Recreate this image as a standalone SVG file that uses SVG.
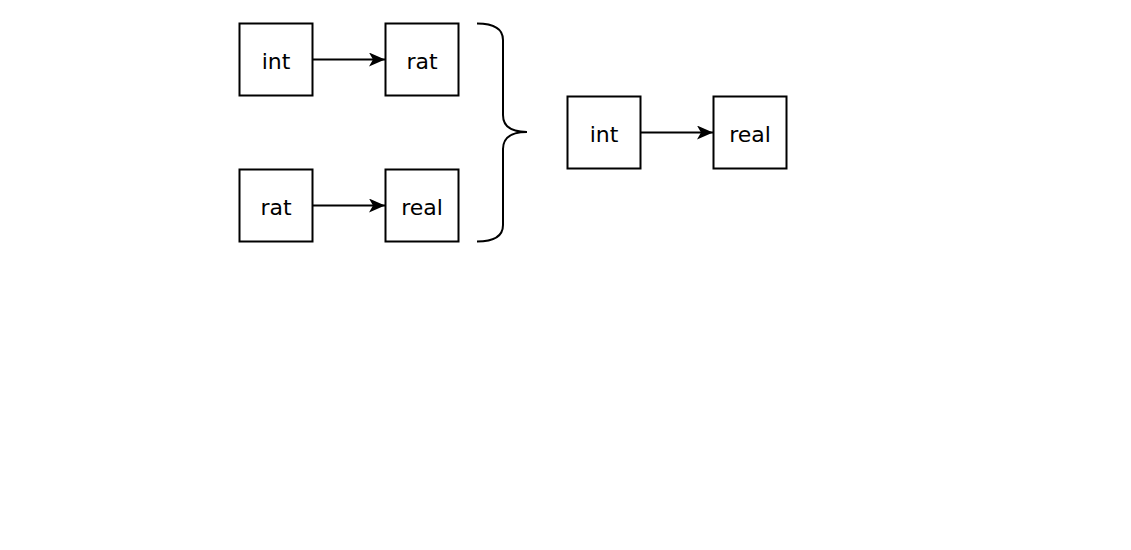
<svg xmlns="http://www.w3.org/2000/svg" width="1131" height="550" viewBox="0 0 1131 550">
<defs>
<style>
.box{fill:#fff;stroke:#000;stroke-width:2}
.lbl{font-family:"DejaVu Sans",sans-serif;font-size:22px;fill:#000;text-anchor:middle;dominant-baseline:central}
.edge{fill:none;stroke:#000;stroke-width:2}
</style>
<marker id="arr" markerWidth="18" markerHeight="16" refX="16" refY="7" orient="auto" markerUnits="userSpaceOnUse">
<path d="M0,0 L16,7 L0,14 L4,7 Z" fill="#000"/>
</marker>
</defs>
<rect width="1131" height="550" fill="#fff"/>
<g id="n1"><rect class="box" x="239.5" y="23.5" width="73" height="72"/><text class="lbl" x="276" y="61">int</text></g>
<g id="n2"><rect class="box" x="385.5" y="23.5" width="73" height="72"/><text class="lbl" x="422" y="61">rat</text></g>
<g id="n3"><rect class="box" x="239.5" y="169.5" width="73" height="72"/><text class="lbl" x="276" y="207">rat</text></g>
<g id="n4"><rect class="box" x="385.5" y="169.5" width="73" height="72"/><text class="lbl" x="422" y="207">real</text></g>
<g id="n5"><rect class="box" x="567.5" y="96.5" width="73" height="72"/><text class="lbl" x="604" y="134">int</text></g>
<g id="n6"><rect class="box" x="713.5" y="96.5" width="73" height="72"/><text class="lbl" x="750" y="134">real</text></g>
<g id="brace"><path class="edge" d="M477,23.5 Q503,23.5 503,40 L503,115 Q503,132 527,132 Q503,132 503,149 L503,225 Q503,241.5 477,241.5"/></g>
<g id="edges">
<path class="edge" d="M312.5,59.5 L385,59.5" marker-end="url(#arr)"/>
<path class="edge" d="M312.5,205.5 L385,205.5" marker-end="url(#arr)"/>
<path class="edge" d="M640.5,132.5 L713,132.5" marker-end="url(#arr)"/>
</g>
</svg>
